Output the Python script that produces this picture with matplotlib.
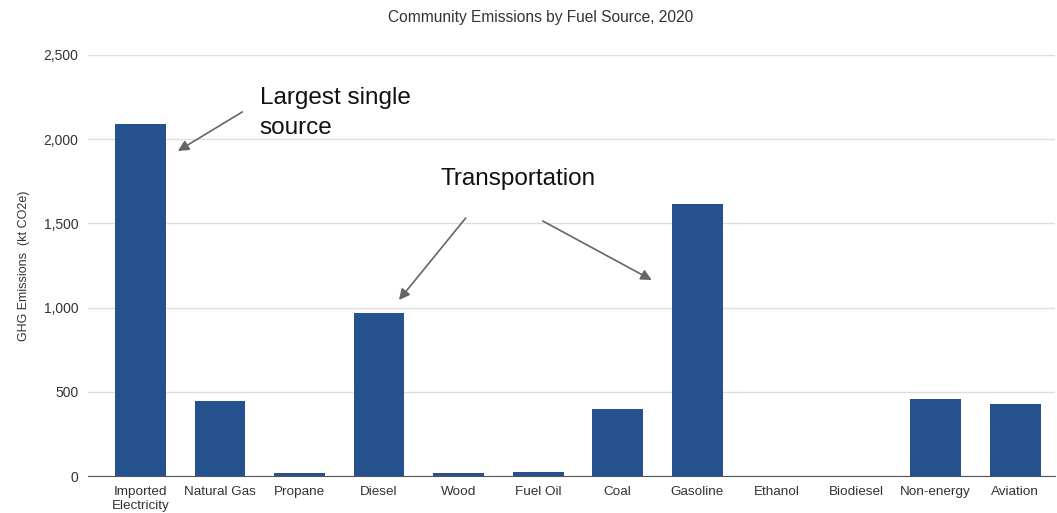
import matplotlib.pyplot as plt
from matplotlib.ticker import FuncFormatter

# --- Data (kt CO2e, 2020) ---
fuels = ["Imported\nElectricity", "Natural Gas", "Propane", "Diesel", "Wood",
         "Fuel Oil", "Coal", "Gasoline", "Ethanol", "Biodiesel",
         "Non-energy", "Aviation"]
emissions = [2090, 446, 18, 970, 17, 24, 399, 1613, 0, 0, 460, 427]

plt.rcParams['font.family'] = ['Liberation Sans', 'DejaVu Sans']

fig = plt.figure(figsize=(10.57, 5.13), dpi=100)
ax = fig.add_axes([0.0833, 0.0721, 0.9147, 0.8207])

x = list(range(len(fuels)))
ax.bar(x, emissions, width=0.64, color='#25528F', zorder=2)

ax.set_xlim(-0.66, 11.5)
ax.set_ylim(0, 2500)
ax.set_yticks([0, 500, 1000, 1500, 2000, 2500])
ax.yaxis.set_major_formatter(FuncFormatter(lambda v, p: f'{int(v):,}'))
ax.grid(axis='y', color='#dddddd', linewidth=1, zorder=0)
ax.set_xticks(x)
ax.set_xticklabels(fuels, linespacing=1.15)

for s in ['top', 'right', 'left']:
    ax.spines[s].set_visible(False)
ax.spines['bottom'].set_color('#555555')
ax.spines['bottom'].set_zorder(3)
ax.tick_params(axis='y', length=0, labelsize=10, colors='#333333', pad=7)
ax.tick_params(axis='x', length=0, labelsize=9.7, colors='#333333', pad=7.5)

ax.set_ylabel('GHG Emissions  (kt CO2e)', fontsize=9, color='#333333', labelpad=10)
fig.text(0.511, 0.965, 'Community Emissions by Fuel Source, 2020',
         ha='center', va='center', fontsize=11.2, color='#333333')

# --- Annotations ---
arrow = dict(arrowstyle='-|>', color='#666666', lw=1.2, mutation_scale=16,
             shrinkA=0, shrinkB=0)
ax.text(1.50, 2155, 'Largest single\nsource', ha='left', va='center',
        fontsize=17.5, color='#111111', linespacing=1.45)
ax.annotate('', xy=(0.47, 1930), xytext=(1.28, 2162), arrowprops=arrow)

ax.text(3.77, 1764, 'Transportation', ha='left', va='center',
        fontsize=17.5, color='#111111')
ax.annotate('', xy=(3.25, 1045), xytext=(4.09, 1532), arrowprops=arrow)
ax.annotate('', xy=(6.43, 1164), xytext=(5.06, 1514), arrowprops=arrow)

plt.savefig('out.png', dpi=100, facecolor='white')
